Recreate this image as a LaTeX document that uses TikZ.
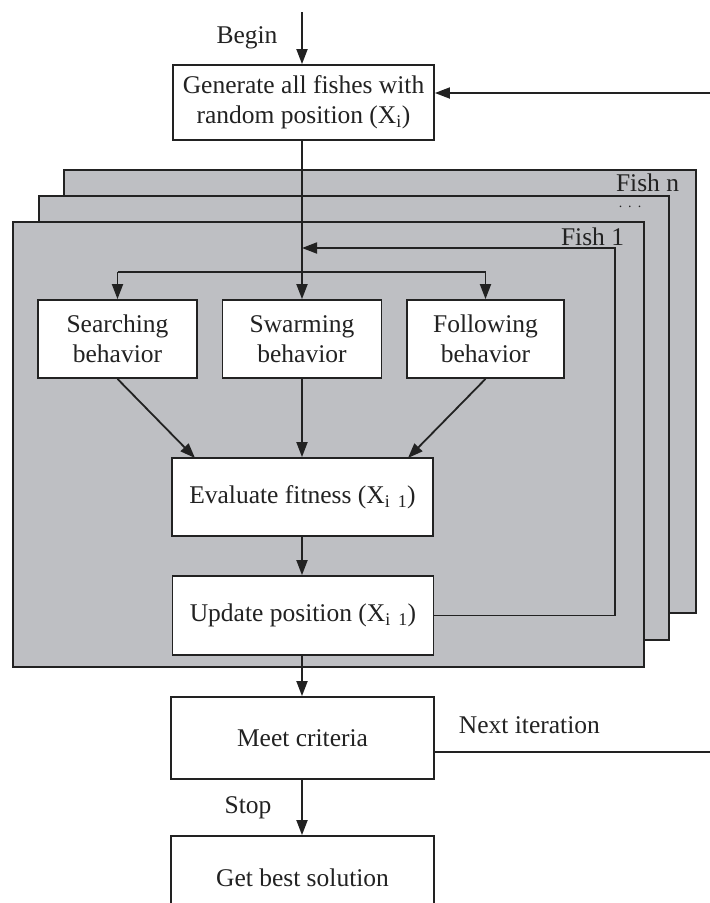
\documentclass[tikz,border=0pt]{standalone}
\usepackage{fontspec}
\setmainfont{Liberation Serif}
\usetikzlibrary{arrows.meta,calc}
\definecolor{panelgray}{RGB}{190,191,195}
\definecolor{ink}{RGB}{34,34,34}
\begin{document}
\begin{tikzpicture}[x=1pt,y=-1pt,
  line width=1.8pt, draw=ink,
  >={Triangle[length=15pt,width=11pt]},
  txt/.style={font=\fontsize{25.5}{30}\selectfont, text=ink, inner sep=0pt},
  box/.style={txt, draw=ink, fill=white, align=center, minimum width=#1, minimum height=78pt},
  box/.default=261pt,
  panel/.style={draw=ink, fill=panelgray},
  flow/.style={->, draw=ink}]
\useasboundingbox (0,0) rectangle (710,903);
\clip (0,0) rectangle (710,903);

% stacked fish panels, back to front
\draw[panel] (64,170) rectangle (696,613);
\draw[panel] (39,196) rectangle (669,640);
\draw[panel] (13,222) rectangle (644,667);
\node[txt, anchor=east] (fishn) at (680,183) {Fish n};
\node[txt, anchor=center, font=\fontsize{14}{14}\selectfont] (dots) at (630,207) {.\hspace{6pt}.\hspace{6pt}.};
\node[txt, anchor=east] (fish1) at (625,237) {Fish 1};

% process boxes
\node[box, minimum height=75pt] (gen) at (303.5,102.5) {Generate all fishes with\\random position (X\textsubscript{i})};
\node[box=159pt] (search) at (117.5,339) {Searching\\behavior};
\node[box=159pt] (swarm) at (302,339) {Swarming\\behavior};
\node[box=157pt] (follow) at (485.5,339) {Following\\behavior};
\node[box] (eval) at (302.5,497) {Evaluate fitness (X\textsubscript{i\hspace{0.45em}1})};
\node[box, minimum height=79pt] (update) at (303,615.5) {Update position (X\textsubscript{i\hspace{0.45em}1})};
\node[box=263pt, minimum height=82pt] (meet) at (302.5,738) {Meet criteria};
\node[box=263pt, minimum height=84pt] (best) at (302.5,878) {Get best solution};

% labels
\node[txt] (begin) at (247,38) {Begin};
\node[txt] (stop) at (248,808) {Stop};
\node[txt, anchor=west] (next) at (458,725) {Next iteration};

% entry and main column
\coordinate (start) at (302,12);
\draw[flow] (start) -- (gen.north -| start);
\draw[flow] (gen.south -| start) -- (swarm.north -| start);

% split to the three behaviours
\coordinate (splitL) at (117.5,272);
\coordinate (splitR) at (485.5,272);
\draw (splitL) -- (splitR);
\draw[flow] (splitL) -- (search.north);
\draw[flow] (splitR) -- (follow.north);

% behaviours to evaluation
\coordinate (evalL) at (195,458);
\coordinate (evalR) at (408,458);
\draw[flow] (search.south) -- (evalL);
\draw[flow] (swarm.south) -- (eval.north -| swarm.south);
\draw[flow] (follow.south) -- (evalR);
\draw[flow] (eval.south -| start) -- (update.north -| start);

% per-fish loop
\coordinate (loopR) at (615,248);
\coordinate (loopIn) at (302,248);
\draw[flow] (update.east) -| (loopR) -- (loopIn);

% to the stop test and final result
\draw[flow] (update.south -| start) -- (meet.north -| start);
\draw[flow] (meet.south -| start) -- (best.north -| start);

% next iteration feedback
\coordinate (iterOut) at (712,752);
\coordinate (iterIn) at (712,93);
\draw (meet.east |- iterOut) -- (iterOut);
\draw[flow] (iterIn) -- (gen.east |- iterIn);
\end{tikzpicture}
\end{document}
